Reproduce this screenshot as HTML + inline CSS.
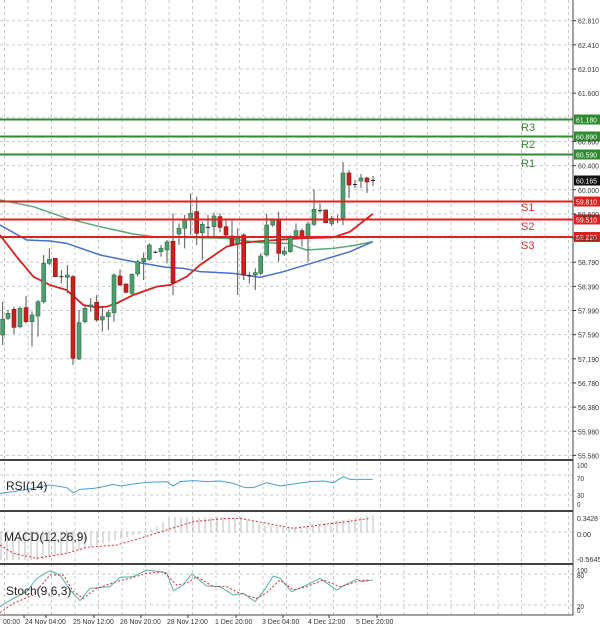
<!DOCTYPE html>
<html><head><meta charset="utf-8"><style>
html,body{margin:0;padding:0;background:#fff;}
svg{display:block;font-family:"Liberation Sans",sans-serif;}
</style></head><body>
<svg id="c" width="600" height="629" viewBox="0 0 600 629" xmlns="http://www.w3.org/2000/svg">
<rect width="600" height="629" fill="#fff"/>
<g id="grid" stroke="#c8c8c8" stroke-width="1" stroke-dasharray="3,3"></g>
<g id="main"></g>
<g id="axis" font-size="7.5" fill="#333"></g>
</svg>
<script>
const NS="http://www.w3.org/2000/svg";
const svg=document.getElementById('c');
function el(t,a,p,txt){const e=document.createElementNS(NS,t);for(const k in a)e.setAttribute(k,a[k]);if(txt!==undefined)e.textContent=txt;(p||svg).appendChild(e);return e;}
const grid=document.getElementById('grid'),main=document.getElementById('main'),axis=document.getElementById('axis');
const AX=573;
function lbl(x,y,t){const w=t.length*3.5;return el('text',{x:x,y:y,textLength:w,lengthAdjust:'spacingAndGlyphs'},axis,t);}
for(let x=4.5;x<AX;x+=23.5){el('line',{x1:x,y1:0,x2:x,y2:615},grid);}
const pl=["62.810","62.410","62.010","61.600","61.180","60.800","60.400","60.000","59.600","59.190","58.790","58.390","57.990","57.590","57.190","56.780","56.380","55.980","55.580"];
pl.forEach((t,i)=>{const y=20.7+i*24.15;el('line',{x1:0,y1:y,x2:AX,y2:y},grid);
 if(t!=="61.180"){el('line',{x1:AX,y1:y,x2:AX+3,y2:y,stroke:'#333'},axis);lbl(AX+5,y+3,t);} });
[475,495,532,574,605].forEach(y=>el('line',{x1:0,y1:y,x2:AX,y2:y},grid));
el('line',{x1:AX,y1:0,x2:AX,y2:615,stroke:'#444','stroke-width':1});
[460,511,564].forEach(y=>el('line',{x1:0,y1:y,x2:AX,y2:y,stroke:'#444','stroke-width':2}));
el('line',{x1:0,y1:615,x2:AX,y2:615,stroke:'#444','stroke-width':1});
[[465,"100"],[478,"70"],[495,"30"],[504,"0"],[518,"0.3428"],[534,"0.00"],[559,"-0.5645"],[570,"100"],[575,"80"],[606,"20"],[610,"0"]].forEach(a=>lbl(AX+4,a[0]+3,a[1]));
[[3,"00:00"],[25,"24 Nov 04:00"],[73,"25 Nov 12:00"],[120,"26 Nov 20:00"],[167,"28 Nov 12:00"],[215,"1 Dec 20:00"],[262,"3 Dec 04:00"],[308,"4 Dec 12:00"],[356,"5 Dec 20:00"]].forEach(a=>{const w=a[1].length*3.4;el('text',{x:a[0],y:624,textLength:w,lengthAdjust:'spacingAndGlyphs'},axis,a[1]);el('line',{x1:a[0]+21,y1:615,x2:a[0]+21,y2:618,stroke:'#333'},axis);});
const C=[[8,418,465,'g',365,495],[24,400,415,'g',390,420],[42,388,442,'r',380,462],[60,385,440,'g',380,445],[78,383,425,'r',348,430],[96,405,425,'g',395,500],[114,365,408,'g',360,470],[131,250,365,'g',225,370],[148,238,250,'g',205,255],[166,235,290,'r',235,290],[184,287,289,'d',270,310],[202,285,292,'g',255,340],[219,290,535,'r',285,555],[237,428,537,'g',390,540],[255,385,425,'g',375,430],[272,375,380,'g',355,395],[290,367,420,'r',345,425],[307,410,420,'g',380,455],[325,398,410,'g',390,450],[342,285,398,'g',280,425],[360,288,315,'r',268,318],[378,312,337,'r',310,340],[396,283,340,'g',280,345],[413,245,282,'g',240,290],[431,235,245,'g',218,300],[448,195,238,'g',190,242],[466,214,216,'d',212,220],[483,205,215,'g',195,230],[501,186,210,'g',180,250],[519,184,308,'r',100,345],[537,145,162,'g',130,195],[554,118,145,'g',105,205],[572,100,120,'g',40,165],[590,95,160,'r',50,195],[607,133,158,'g',125,240],[624,139,141,'d',105,170],[642,108,140,'g',98,170],[660,110,142,'r',100,157],[678,140,165,'r',122,170],[696,168,195,'r',122,200],[713,175,190,'g',145,345],[731,165,285,'r',160,300],[748,284,286,'d',275,310],[766,278,285,'g',265,330],[782,228,280,'g',220,285],[800,135,225,'g',102,230],[818,120,135,'g',115,140],[836,118,220,'r',95,245],[853,213,222,'g',200,228],[871,170,215,'g',165,218],[888,152,170,'g',130,175],[906,152,170,'r',145,200],[924,132,170,'g',125,245],[942,88,133,'g',28,138],[960,89,91,'d',70,98],[977,90,128,'r',88,130],[995,115,130,'g',108,138],[1013,115,117,'d',105,130]];
const pts=C.map(c=>[c[0]/3,c[1]/3+180,c[2]/3+180,c[3],c[4]/3+180,c[5]/3+180]);
pts.push([343,173,218,'g',162,225],[349,173,185,'r',170,198],[355,183.5,184.5,'d',180,188],[361,178,181,'g',174,188],[367,178,182,'r',177,193],[373,179.5,180.5,'d',176,186]);
function poly(arr,fx,fy,st){return el('polyline',{points:arr.map(p=>(fx(p[0]))+','+(fy(p[1]))).join(' '),fill:'none',...st},main);}
const zx=x=>x/3, zy=y=>y/3+180;
poly([[0,60],[100,80],[200,115],[300,140],[400,162],[460,170],[560,172],[680,175],[780,188],[860,190],[920,210],[1000,205],[1060,197],[1118,185]],zx,zy,{stroke:'#5aa978','stroke-width':1.5});
poly([[0,135],[80,180],[150,183],[200,190],[300,225],[400,245],[500,262],[550,265],[600,275],[700,280],[780,292],[850,275],[950,245],[1050,215],[1118,185]],zx,zy,{stroke:'#4a6fc8','stroke-width':1.5});
poly([[0,165],[50,230],[100,290],[150,315],[200,330],[250,375],[290,382],[320,380],[350,370],[400,345],[470,320],[510,315],[560,290],[600,255],[680,200],[720,190],[760,185],[900,175],[1000,172],[1050,155],[1118,102]],zx,zy,{stroke:'#d42020','stroke-width':1.8});
pts.forEach(p=>{const [x,t,b,c,wt,wb]=p;
 el('line',{x1:x,y1:wt,x2:x,y2:wb,stroke:'#555','stroke-width':1},main);
 if(c==='d'){el('line',{x1:x-2,y1:t+1,x2:x+2,y2:t+1,stroke:'#222','stroke-width':1},main);}
 else el('rect',{x:x-2,y:t,width:4,height:Math.max(1,b-t),fill:c==='g'?'#4f9e6e':'#c8211e',stroke:c==='g'?'#2e6e48':'#8a1010','stroke-width':0.6},main);
});
[[119.5,'#2e8b2e','61.180','R3',127],[136.5,'#2e8b2e','60.890','R2',144],[154.5,'#2e8b2e','60.590','R1',163],[201.5,'#e02020','59.810','S1',207],[219.5,'#e02020','59.510','S2',226],[237,'#e02020','59.220','S3',245]].forEach(a=>{
 el('line',{x1:0,y1:a[0],x2:AX,y2:a[0],stroke:a[1],'stroke-width':2},main);
 el('rect',{x:AX+1,y:a[0]-5,width:26,height:10,fill:a[1]},main);
 el('text',{x:AX+3,y:a[0]+3,'font-size':7.5,fill:'#fff',textLength:21,lengthAdjust:'spacingAndGlyphs'},main,a[2]);
 el('text',{x:521,y:a[4]+4,'font-size':11,fill:a[1]==='#2e8b2e'?'#2e8b2e':'#d03030'},main,a[3]);
});
el('rect',{x:AX+1,y:175.5,width:26,height:10,fill:'#111'},main);
el('text',{x:AX+3,y:183.5,'font-size':7.5,fill:'#fff',textLength:21,lengthAdjust:'spacingAndGlyphs'},main,'60.165');
poly([[0,100],[40,95],[80,88],[120,80],[150,75],[200,83],[220,98],[240,88],[280,85],[300,82],[340,73],[360,78],[400,72],[440,67],[500,65],[520,78],[540,65],[580,62],[620,65],[660,63],[700,70],[735,83],[760,83],[800,68],[840,78],[880,72],[930,65],[970,63],[1000,68],[1030,50],[1050,58],[1118,58]],zx,y=>y/3+460,{stroke:'#4a9fd0','stroke-width':1});
el('text',{x:6,y:490,'font-size':12,fill:'#222'},main,'RSI(14)');
for(let zxx=0;zxx<=1118;zxx+=18){let v;
 if(zxx<120)v=300;else if(zxx<440)v=300-(zxx-120)*(85/320);else if(zxx<500)v=215-(zxx-440)*0.6;else if(zxx<720)v=172;else if(zxx<800)v=172+(zxx-720)*0.35;else if(zxx<900)v=200;else v=200-(zxx-900)*0.16;
 el('line',{x1:zxx/3+1,y1:531.7,x2:zxx/3+1,y2:v/3+460,stroke:'#bbb','stroke-width':1},main);}
poly([[0,255],[40,280],[110,295],[200,280],[260,262],[350,255],[420,235],[500,210],[580,185],[680,175],[720,175],[800,190],[880,205],[960,195],[1040,185],[1110,175]],zx,y=>y/3+460,{stroke:'#d03030','stroke-width':1,'stroke-dasharray':'2,2'});
el('text',{x:4,y:541,'font-size':12,fill:'#222'},main,'MACD(12,26,9)');
poly([[0,440],[40,415],[80,395],[110,355],[150,332],[180,345],[210,390],[240,422],[270,385],[330,380],[360,352],[400,350],[440,330],[500,338],[520,392],[550,375],[575,342],[620,378],[660,380],[700,405],[730,400],[765,425],[790,395],[820,348],[840,355],[875,395],[920,375],[960,355],[1010,390],[1030,378],[1070,358],[1085,365],[1118,360]],zx,y=>y/3+460,{stroke:'#5ab0a8','stroke-width':1});
poly([[0,458],[40,430],[100,405],[150,345],[190,345],[220,395],[250,415],[290,385],[350,365],[400,352],[440,340],[490,335],[530,375],[560,370],[590,350],[640,380],[680,380],[720,400],[770,415],[800,398],[840,360],[880,390],[920,380],[970,360],[1020,380],[1080,362],[1110,360]],zx,y=>y/3+460,{stroke:'#d03030','stroke-width':1,'stroke-dasharray':'2,2'});
el('text',{x:6,y:595,'font-size':12,fill:'#222'},main,'Stoch(9,6,3)');
</script>
</body></html>
